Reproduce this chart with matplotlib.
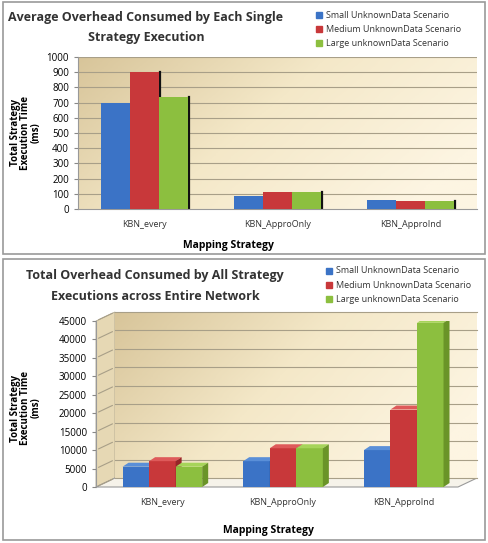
import numpy as np
import matplotlib.pyplot as plt
from matplotlib.patches import Polygon, Rectangle
from matplotlib.transforms import offset_copy
from matplotlib.colors import LinearSegmentedColormap

categories = ['KBN_every', 'KBN_ApproOnly', 'KBN_ApproInd']
series_names = ['Small UnknownData Scenario', 'Medium UnknownData Scenario', 'Large unknownData Scenario']
avg_small = [700, 85, 60]
avg_medium = [900, 115, 55]
avg_large = [740, 110, 55]
tot_small = [5500, 7000, 10000]
tot_medium = [7000, 10500, 21000]
tot_large = [5500, 10500, 44500]

colors = ['#3b73c6', '#c8383a', '#8cbf3f']
top_colors = ['#5a8fd8', '#de5a5a', '#a6d45a']
side_colors = ['#2a5598', '#962628', '#6a9428']

plt.rcParams['font.family'] = ['Open Sans', 'DejaVu Sans']

fig = plt.figure(figsize=(4.89, 5.43), dpi=100)
W, H = 489, 543


def px_rect(x0, y0, x1, y1):
    return [x0 / W, 1 - y1 / H, (x1 - x0) / W, (y1 - y0) / H]


# panel borders
for (y0, y1) in [(2, 254), (259, 540)]:
    fig.patches.append(Rectangle((3 / W, 1 - y1 / H), 482 / W, (y1 - y0) / H,
                                 transform=fig.transFigure, fill=False,
                                 edgecolor='#9a9a9a', linewidth=1.2))

grad = np.linspace(0, 1, 200)[None, :] * np.ones((100, 1))
vert = np.linspace(0, 1, 100)[:, None]
bg = np.clip(grad * 0.8 + vert * 0.35, 0, 1)
beige = LinearSegmentedColormap.from_list('beige', ['#d8c59a', '#f4e8c8', '#fdf5e2'])

# ---------------- top chart ----------------
ax1 = fig.add_axes(px_rect(78, 57, 477, 209))
x = np.arange(len(categories))
w = 0.22
ax1.imshow(bg, cmap=beige, aspect='auto', extent=[-0.5, 2.5, 0, 1000],
           zorder=0, origin='upper', vmin=0, vmax=1)
ax1.set_xlim(-0.5, 2.5)
ax1.set_ylim(0, 1000)
ax1.set_yticks(range(0, 1001, 100))
for yv in range(100, 1001, 100):
    ax1.axhline(yv, color='#a89f88', linewidth=0.8, zorder=1)
for i, vals in enumerate([avg_small, avg_medium, avg_large]):
    ax1.bar(x + (i - 1) * w, vals, w, color=colors[i], zorder=3)
# dark shadow on the right of each group
for j in range(3):
    ax1.plot([x[j] + 1.5 * w + 0.008] * 2, [0, avg_large[j]], color='#111111',
             linewidth=1.6, zorder=2)
    ax1.plot([x[j] + 0.5 * w + 0.008] * 2, [avg_large[j], avg_medium[j]],
             color='#111111', linewidth=1.6, zorder=2)
ax1.set_xticks(x)
ax1.set_xticklabels(categories, fontsize=6.5, color='#333333')
ax1.tick_params(axis='x', length=0, pad=8)
ax1.tick_params(axis='y', labelsize=7, length=3, color='#888888')
for s in ['top', 'right']:
    ax1.spines[s].set_visible(False)
ax1.spines['left'].set_color('#999999')
ax1.spines['bottom'].set_color('#999999')
fig.text(228 / W, 1 - 245 / H, 'Mapping Strategy', ha='center', va='center',
         fontsize=7.5, fontweight='bold')
fig.text(26 / W, 1 - 133 / H, 'Total Strategy\nExecution Time\n(ms)', rotation=90,
         ha='center', va='center', fontsize=7, fontweight='bold', linespacing=0.9)
fig.text(146 / W, 1 - 17 / H, 'Average Overhead Consumed by Each Single',
         ha='center', va='center', fontsize=9, fontweight='bold', color='#333333')
fig.text(146 / W, 1 - 37 / H, 'Strategy Execution',
         ha='center', va='center', fontsize=9, fontweight='bold', color='#333333')
for i, name in enumerate(series_names):
    yy = 15 + i * 14
    fig.patches.append(Rectangle((316 / W, 1 - (yy + 3) / H), 6 / W, 6 / H,
                                 transform=fig.transFigure, color=colors[i]))
    fig.text(326 / W, 1 - yy / H, name, fontsize=6.5, va='center', color='#333333')

# ---------------- bottom chart ----------------
ax2 = fig.add_axes(px_rect(96, 321, 458, 487))
ax2.set_xlim(-0.5, 2.5)
ax2.set_ylim(0, 45000)
dx, dy = 19, 9  # depth of the back wall in pixels
back = offset_copy(ax2.transData, fig=fig, x=dx * 72 / 100, y=dy * 72 / 100, units='points')
ax2.imshow(bg, cmap=beige, aspect='auto', extent=[-0.5, 2.5, 0, 45000],
           zorder=0, origin='upper', vmin=0, vmax=1, transform=back, clip_on=False)
ax2.patch.set_visible(False)
for yv in range(0, 45001, 5000):
    ax2.plot([-0.5, 2.5], [yv, yv], color='#a89f88', linewidth=0.8,
             transform=back, clip_on=False, zorder=1)
    # diagonal on side wall
    p0 = ax2.transData.transform((-0.5, yv))
    ax2.annotate('', xy=(p0[0] + dx, p0[1] + dy), xytext=(p0[0], p0[1]),
                 xycoords='figure pixels', textcoords='figure pixels',
                 arrowprops=dict(arrowstyle='-', color='#a89f88', lw=0.8))
# side wall fill
p_bl = ax2.transData.transform((-0.5, 0))
p_tl = ax2.transData.transform((-0.5, 45000))
fig.patches.append(Polygon([p_bl, p_tl, (p_tl[0] + dx, p_tl[1] + dy), (p_bl[0] + dx, p_bl[1] + dy)],
                           closed=True, transform=None, facecolor='#e6d8b4',
                           edgecolor='#b0a890', linewidth=0.6, zorder=0))
# floor
p_br = ax2.transData.transform((2.5, 0))
fig.patches.append(Polygon([p_bl, p_br, (p_br[0] + dx, p_br[1] + dy), (p_bl[0] + dx, p_bl[1] + dy)],
                           closed=True, transform=None, facecolor='#f6f3ea',
                           edgecolor='#9a9a9a', linewidth=0.8, zorder=0))
ax2.set_zorder(1)

bx, by = 6, 4  # bar depth in pixels
shift = 0.05
for i, vals in enumerate([tot_small, tot_medium, tot_large]):
    for j, v in enumerate(vals):
        xl = x[j] + (i - 1.5) * w + shift
        xr = xl + w
        ax2.bar(xl, v, w, align='edge', color=colors[i], zorder=3 + i)
        a = ax2.transData.transform((xl, v))
        b = ax2.transData.transform((xr, v))
        c = ax2.transData.transform((xr, 0))
        top_poly = Polygon([a, b, (b[0] + bx, b[1] + by), (a[0] + bx, a[1] + by)],
                           closed=True, transform=None, facecolor=top_colors[i],
                           edgecolor='none', zorder=3 + i)
        side_poly = Polygon([c, b, (b[0] + bx, b[1] + by), (c[0] + bx, c[1] + by)],
                            closed=True, transform=None, facecolor=side_colors[i],
                            edgecolor='none', zorder=3 + i)
        ax2.add_artist(top_poly)
        ax2.add_artist(side_poly)

ax2.set_yticks(range(0, 45001, 5000))
ax2.set_xticks(x + shift)
ax2.set_xticklabels(categories, fontsize=6.5, color='#333333')
ax2.tick_params(axis='x', length=0, pad=8)
ax2.tick_params(axis='y', labelsize=7, length=3, color='#888888')
for s in ['top', 'right', 'bottom']:
    ax2.spines[s].set_visible(False)
ax2.spines['left'].set_color('#999999')
fig.text(268 / W, 1 - 530 / H, 'Mapping Strategy', ha='center', va='center',
         fontsize=7.5, fontweight='bold')
fig.text(26 / W, 1 - 408 / H, 'Total Strategy\nExecution Time\n(ms)', rotation=90,
         ha='center', va='center', fontsize=7, fontweight='bold', linespacing=0.9)
fig.text(155 / W, 1 - 275 / H, 'Total Overhead Consumed by All Strategy',
         ha='center', va='center', fontsize=9, fontweight='bold', color='#333333')
fig.text(155 / W, 1 - 296 / H, 'Executions across Entire Network',
         ha='center', va='center', fontsize=9, fontweight='bold', color='#333333')
for i, name in enumerate(series_names):
    yy = 271 + i * 14
    fig.patches.append(Rectangle((326 / W, 1 - (yy + 3) / H), 6 / W, 6 / H,
                                 transform=fig.transFigure, color=colors[i]))
    fig.text(336 / W, 1 - yy / H, name, fontsize=6.5, va='center', color='#333333')

fig.savefig('out.png', dpi=100)
